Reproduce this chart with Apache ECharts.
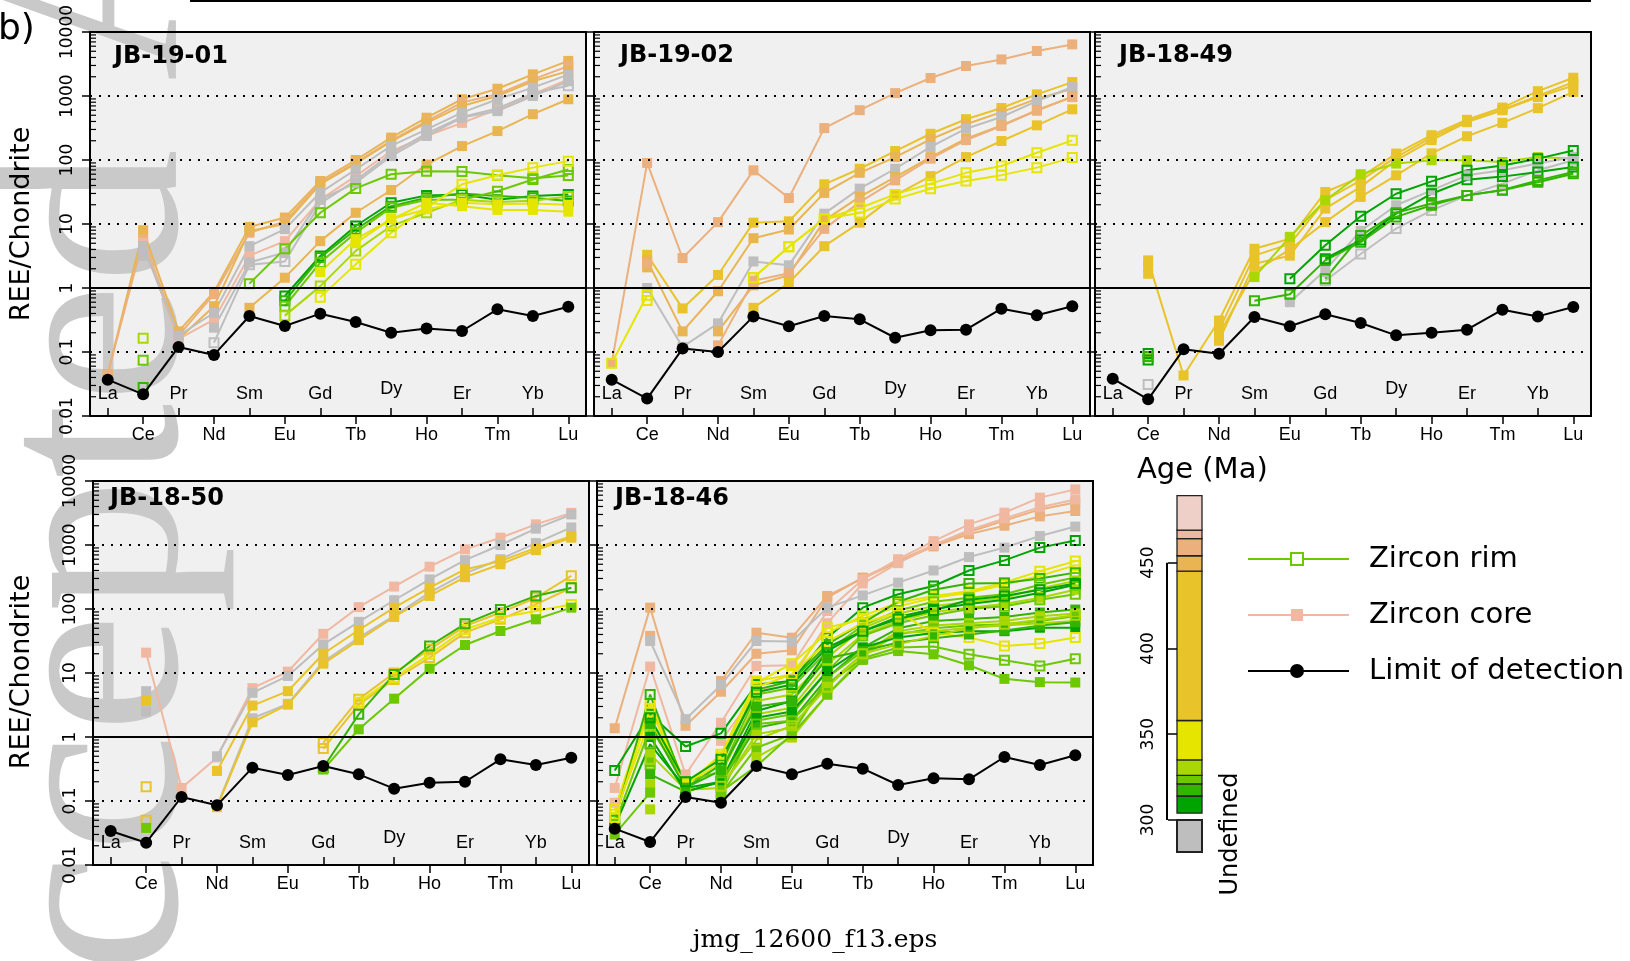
<!DOCTYPE html>
<html><head><meta charset="utf-8">
<script src="https://cdn.jsdelivr.net/npm/echarts/dist/echarts.min.js"></script>
<style>html,body{margin:0;padding:0;background:#fff}#c{width:1630px;height:961px}</style>
</head><body><div id="c"></div>
<script>
// ---------- DATA ----------
const ELEMENTS = ['La','Ce','Pr','Nd','Sm','Eu','Gd','Tb','Dy','Ho','Er','Tm','Yb','Lu'];
const Y_TICKS = ['0.01','0.1','1','10','100','1000','10000'];
const MINOR_STEPS = [2,3,4,5,6,7,8,9];
const DECADES = [0.01,0.1,1,10,100,1000];
const AGE_BREAKS = [304,314,321,326,335,358,445,454,464,469,489];
const AGE_TICKS = [300,350,400,450];
const PANEL_NAMES = ['JB-19-01','JB-19-02','JB-18-49','JB-18-50','JB-18-46'];

const JB1901_LOD = [0.037,0.0218,0.12,0.09,0.365,0.255,0.397,0.294,0.2,0.232,0.213,0.464,0.365,0.51];
const JB1901_AGE = [6,7,6,8,6,10,10,10,2,0,1,2,3,4,4,4,3,2,1];
const JB1901_KIND = ['c','c','c','c','c','c','c','r','r','r','r','r','r','r','c','c','r','r','r'];
const JB1901_VALUES = [
 [0.045,8.0,0.21,0.87,9.0,12.6,47,100,224,458,890,1300,2180,3540],
 [0.045,5.8,0.18,0.80,7.3,11,44,91,200,405,790,1070,1820,2930],
 [null,5.0,0.16,0.52,7.8,10,42,88,195,380,700,1000,1700,2450],
 [null,5.1,0.16,0.32,3.2,5.4,24,56,138,237,380,620,1070,1820],
 [null,null,null,null,0.49,1.45,5.4,15,34,85,165,283,520,890],
 [null,4.5,0.18,0.41,4.5,8.3,31,71,166,300,550,890,1350,2160],
 [null,3.2,null,0.24,2.5,3.6,24,44,115,237,460,580,1000,1700],
 [null,null,null,0.14,2.3,2.6,21,48,125,260,470,640,1100,1450],
 [null,null,null,null,1.17,4.1,15,36,60,67,66,58,52,57.5],
 [null,null,null,null,null,0.75,3.16,9.3,21.5,28,29,24,27.4,29],
 [null,null,null,null,null,0.63,3.0,8.2,19,25.7,30,27.4,25.7,22.9],
 [null,null,null,null,null,0.52,2.5,7.3,18,24,24,32.5,49.6,71],
 [null,null,null,null,null,0.37,1.07,3.8,9.3,15,24,22,23,27],
 [null,null,null,null,null,null,0.72,2.34,7.3,18,41.7,57.6,76,96],
 [null,null,null,null,null,null,1.78,5.8,11.8,21.5,19,16.6,16.6,15.6],
 [null,null,null,null,null,null,null,5.0,12,17,21.5,20.3,21,20],
 [null,0.164,null,null,null,null,null,null,null,null,null,null,null,null],
 [null,0.074,null,null,null,null,null,null,null,null,null,null,null,null],
 [null,0.028,null,null,null,null,null,null,null,null,null,null,null,null]
];

const JB1902_LOD = [0.037,0.0187,0.113,0.1,0.36,0.252,0.365,0.324,0.167,0.218,0.223,0.475,0.374,0.517];
const JB1902_AGE = [7,5,6,10,6,7,5,4,4];
const JB1902_KIND = ['c','c','c','c','c','c','c','r','r'];
const JB1902_VALUES = [
 [0.067,90,2.94,10.7,69,25.5,315,600,1110,1910,2940,3730,5050,6400],
 [null,3.3,0.48,1.6,10.5,11,41.7,73,138,257,434,650,1060,1650],
 [null,2.7,0.21,0.89,6.0,8.2,30.6,63,111,210,362,560,900,1300],
 [null,1.0,0.12,0.28,2.6,2.26,14.5,35.7,73,160,308,470,830,1380],
 [null,2.1,null,0.21,1.1,1.58,11.4,26.5,54,111,215,348,600,980],
 [null,2.4,null,0.127,1.3,1.7,8.4,22,48,105,205,340,590,960],
 [null,null,null,null,0.49,1.21,4.5,10.5,28,56,111,198,348,620],
 [0.067,0.77,null,null,1.45,4.4,12.1,17.8,29,42.7,63,80.6,130,203],
 [null,0.64,null,null,1.45,4.4,12.1,14.8,24.5,35.6,47,58,76,109]
];

const JB1849_LOD = [0.0383,0.0182,0.11,0.094,0.352,0.252,0.388,0.284,0.182,0.2,0.223,0.458,0.36,0.505];
const JB1849_AGE = [5,5,5,5,3,10,10,1,0,0,1];
const JB1849_KIND = ['c','c','c','c','c','c','r','r','r','r','r'];
const JB1849_VALUES = [
 [null,2.7,0.043,0.31,4.1,5.9,31.6,54,126,244,425,660,1190,1930],
 [null,2.1,null,0.22,3.2,4.9,23.5,48,111,225,400,610,1000,1650],
 [null,1.67,null,0.15,2.4,3.2,17.4,38,99,205,390,600,960,1460],
 [null,null,null,0.19,1.8,4.0,10.7,26.5,57.6,127,235,380,645,1160],
 [null,0.083,null,null,1.48,6.3,23.5,60,88,99,99,93,111,105],
 [null,null,null,null,null,0.6,1.9,7.8,19.6,33.6,57.6,69,88,111],
 [null,0.031,null,null,null,null,1.3,3.4,8.5,16.3,28,42.7,69,99],
 [null,null,null,null,0.63,0.8,2.7,5.2,12.9,19.6,28,33.6,45,61],
 [null,0.075,null,null,null,1.4,4.65,13.2,29.7,46.4,69,82,105,141],
 [null,0.095,null,null,null,null,2.87,5.6,14.5,29.7,49,55,65,78],
 [null,0.085,null,null,null,null,1.4,6.6,15,21,28,34,48,65]
];

const JB1850_LOD = [0.034,0.0223,0.1155,0.0856,0.332,0.255,0.352,0.261,0.156,0.193,0.2,0.448,0.365,0.475];
const JB1850_AGE = [8,10,10,5,5,5,5,4,1,2];
const JB1850_KIND = ['c','c','c','c','c','r','r','r','r','c'];
const JB1850_VALUES = [
 [null,20.8,0.16,0.48,5.8,10.5,41,107,224,458,855,1300,2100,3180],
 [null,5.2,null,0.5,4.9,9.0,28,63,137,290,580,1000,1800,3000],
 [null,2.5,null,0.083,1.96,3.3,15,35.6,78,180,360,600,1070,1880],
 [null,3.65,null,0.295,3.1,5.2,20,47,105,215,415,560,900,1370],
 [null,null,null,0.08,1.7,3.2,14,32.6,75,160,315,500,830,1300],
 [null,0.167,null,null,null,null,0.81,3.9,10,23.4,54,88,150,330],
 [null,0.05,null,null,null,null,0.66,3.2,7.9,17.4,42.7,69,118,215],
 [null,null,null,null,null,null,null,3.5,8.5,19.6,48,73.6,93,118],
 [null,null,null,null,null,null,0.33,2.26,9.5,26.4,58.6,98.6,160,215],
 [null,0.038,null,null,null,null,0.31,1.32,3.97,11.7,27.4,45.3,69,105]
];

const JB1846_LOD = [0.037,0.0229,0.1155,0.094,0.352,0.261,0.383,0.32,0.178,0.226,0.218,0.487,0.365,0.517];
const JB1846_AGE = [7,7,8,8,10, 0,4,4,1,2,3,0,3,2,1,3,2,3,0,4,2,2,1,3,0];
const JB1846_KIND = ['c','c','c','c','c', 'r','r','r','r','r','r','r','c','r','c','c','c','c','c','r','r','c','c','r','r'];
const JB1846_VALUES = [
 [1.37,105,1.5,5.1,20,22.6,150,310,560,1000,1600,2400,3600,4600],
 [null,38,null,7.5,42.6,35.6,160,300,540,950,1480,2000,2800,3400],
 [0.16,12.6,0.26,1.67,12.9,13.2,93,290,600,1150,2100,3200,5500,7400],
 [0.094,null,null,0.87,5,8,60,250,520,1000,1700,2600,3900,5150],
 [null,31.6,1.9,6.5,31.6,31,105,163,258,400,648,910,1380,1940],
 [0.30,2.26,0.71,1.14,6.6,7.5,35.6,105,170,229,400,575,910,1180],
 [0.074,3.4,0.19,0.49,7.1,14,42.5,78,125,160,190,260,390,560],
 [0.062,1.8,0.18,0.4,6.0,9.5,51,70,110,150,180,240,330,480],
 [0.05,4.6,0.16,0.37,5.5,7.5,28,60,130,200,250,255,300,370],
 [0.043,1.4,0.2,0.29,4.6,5.9,22,55,95,130,150,170,240,310],
 [null,1.1,null,0.26,3.65,4.6,17.4,50,85,110,130,150,210,275],
 [0.04,0.77,0.16,0.2,2.55,3.65,22,45,75,100,120,140,180,240],
 [null,0.54,0.15,0.16,2.26,2.87,13.6,40,65,90,105,120,150,200],
 [null,0.37,null,0.13,1.8,2.26,10.7,38,60,80,100,110,140,170],
 [null,0.26,0.14,0.2,1.4,1.8,8.5,25,50,65,70,75,88,98],
 [null,0.18,null,0.16,1.1,1.4,6.6,20,45,55,60,65,77,85],
 [0.03,0.135,null,0.13,0.68,1.1,8.5,22,40,50,55,58,65,77],
 [null,0.074,null,null,0.48,0.98,4.6,18,42,45,51,55,60,65],
 [null,1.0,0.14,0.2,2.0,2.5,10.7,25,36,42,45,45,51,51],
 [0.055,2.8,0.17,0.54,7.5,9.5,31,60,90,42,36,26.5,29,36],
 [null,0.8,null,0.2,1.6,1.8,6.6,17,25,26,19.6,15.8,12.9,16.7],
 [null,0.4,null,0.14,0.35,1.1,4.6,16,22,19.6,13.2,8.1,7.2,7.1],
 [null,1.6,0.16,0.3,3.0,3.6,17,22,30,35,40,46,55,62],
 [null,0.45,null,0.17,0.9,1.5,6,20,28,38,50,58,68,80],
 [null,2.0,0.2,0.45,5.0,6.6,25,45,70,95,140,160,200,250]
];

// ---------- STYLE / LAYOUT ----------
const PALETTE = ['#00a400','#33b400','#6cc800','#a8d800','#e5e500','#e8c32a','#e9b452','#ebb07b','#f0b8a0','#efd0c8','#bebebe'];
const GRID_LAYOUT = [[90,32],[594,32],[1095,32],[93,481],[597,481]];
const TITLE_POS = [[114,57],[620,56],[1119,56],[110,499],[615,499]];
const PW = 496, PH = 384;
const SANS = "'DejaVu Sans'";
const LSANS = "'Liberation Sans'";

const PANELS = [
 {v:JB1901_VALUES,a:JB1901_AGE,k:JB1901_KIND,l:JB1901_LOD},
 {v:JB1902_VALUES,a:JB1902_AGE,k:JB1902_KIND,l:JB1902_LOD},
 {v:JB1849_VALUES,a:JB1849_AGE,k:JB1849_KIND,l:JB1849_LOD},
 {v:JB1850_VALUES,a:JB1850_AGE,k:JB1850_KIND,l:JB1850_LOD},
 {v:JB1846_VALUES,a:JB1846_AGE,k:JB1846_KIND,l:JB1846_LOD}
];

const MINOR_VALUES = [];
DECADES.forEach(d => MINOR_STEPS.forEach(m => MINOR_VALUES.push([0, d*m])));

const option = {animation:false, grid:[], xAxis:[], yAxis:[], series:[], graphic:{elements:[]}};
const G = option.graphic.elements;

PANELS.forEach((p, pi) => {
  const [L, T] = GRID_LAYOUT[pi];
  const showY = (pi === 0 || pi === 3);
  option.grid.push({left:L, top:T, width:PW, height:PH, show:true, backgroundColor:'#f0f0f0', borderWidth:0});
  option.xAxis.push({
    type:'category', gridIndex:pi, data:ELEMENTS, position:'bottom', z:5,
    axisLine:{show:false},
    axisTick:{show:true, alignWithLabel:true, interval:(i)=>i%2===1, length:8, lineStyle:{color:'#000',width:1.5}},
    axisLabel:{interval:(i)=>i%2===1, color:'#000', fontSize:18, fontFamily:LSANS, margin:10},
    splitLine:{show:false}
  });
  option.xAxis.push({
    type:'category', gridIndex:pi, data:ELEMENTS, position:'bottom', z:5,
    axisLine:{show:false},
    axisTick:{show:true, inside:true, alignWithLabel:true, interval:(i)=>i%2===0, length:8, lineStyle:{color:'#000',width:1.5}},
    axisLabel:{inside:true, interval:(i)=>i%2===0, color:'#000', fontSize:18, fontFamily:LSANS, margin:13,
      formatter:(v)=> v === 'Dy' ? '{d|Dy}' : v,
      rich:{d:{fontSize:18, fontFamily:LSANS, color:'#000', padding:[0,0,5,0]}}},
    splitLine:{show:false}
  });
  option.yAxis.push({
    type:'log', gridIndex:pi, logBase:10, min:0.01, max:10000, splitNumber:6, z:5,
    axisLine:{show:false},
    axisTick:{show:true, length:8, lineStyle:{color:'#000',width:1.5}},
    axisLabel:{show:showY, rotate:90, fontSize:17, fontFamily:SANS, color:'#000', margin:14,
      formatter:(v)=>Y_TICKS[Math.round(Math.log10(v))+2]},
    splitLine:{show:true, lineStyle:{color:'#000', type:[2,7], width:2}}
  });
  // minor ticks
  option.series.push({
    type:'custom', xAxisIndex:pi*2, yAxisIndex:pi, data:MINOR_VALUES, silent:true, z:6,
    renderItem:(params, api) => {
      const y = api.coord([0, api.value(1)])[1];
      const x0 = params.coordSys.x;
      return {type:'line', shape:{x1:x0, y1:y, x2:x0+6, y2:y}, style:{stroke:'#000', lineWidth:1.2}};
    }
  });
  p.v.forEach((vals, k) => {
    const col = PALETTE[p.a[k]];
    const rim = p.k[k] === 'r';
    option.series.push({
      type:'line', xAxisIndex:pi*2, yAxisIndex:pi, data:vals, silent:true, z:3,
      symbol:'rect', symbolSize: rim ? 9 : 10, showSymbol:true, showAllSymbol:true,
      lineStyle:{color:col, width:2},
      itemStyle:{color: rim ? 'rgba(0,0,0,0)' : col, borderColor:col, borderWidth: rim ? 2 : 0}
    });
  });
  option.series.push({
    type:'line', xAxisIndex:pi*2, yAxisIndex:pi, data:p.l, silent:true, z:4,
    symbol:'circle', symbolSize:12, showAllSymbol:true,
    lineStyle:{color:'#000', width:2}, itemStyle:{color:'#000'},
    markLine:{silent:true, symbol:'none', label:{show:false}, lineStyle:{color:'#000', type:'solid', width:2}, data:[{yAxis:1}]}
  });
  // frame + title
  G.push({type:'rect', shape:{x:L, y:T, width:PW, height:PH}, style:{fill:'none', stroke:'#000', lineWidth:2}, z:10, silent:true});
  G.push({type:'text', x:TITLE_POS[pi][0], y:TITLE_POS[pi][1], style:{text:PANEL_NAMES[pi], font:"bold 24px "+SANS, fill:'#000', align:'left', verticalAlign:'middle'}, z:10});
});

// Age colour bar
const AGE_SEGMENTS = AGE_BREAKS.slice(0,-1).map((lo,i)=>[lo, AGE_BREAKS[i+1], i]);
option.grid.push({left:1177, top:494, width:25, height:326, show:false});
option.xAxis.push({type:'value', gridIndex:5, min:0, max:1, show:false});
option.yAxis.push({
  type:'value', gridIndex:5, min:300, max:490, position:'left', offset:10, z:5,
  axisLine:{show:false},
  axisTick:{show:true, length:9, customValues:AGE_TICKS, lineStyle:{color:'#000', width:1.5}},
  axisLabel:{rotate:90, fontSize:17, fontFamily:SANS, color:'#000', margin:10, customValues:AGE_TICKS},
  splitLine:{show:false}
});
option.series.push({
  type:'custom', xAxisIndex:10, yAxisIndex:5, data:AGE_SEGMENTS, silent:true, z:3,
  renderItem:(params, api) => {
    const p0 = api.coord([0, api.value(0)]), p1 = api.coord([1, api.value(1)]);
    return {type:'rect', shape:{x:p0[0], y:p1[1], width:p1[0]-p0[0], height:p0[1]-p1[1]},
      style:{fill:PALETTE[api.value(2)], stroke:'#222', lineWidth:1.3}};
  }
});
option.series.push({
  type:'custom', xAxisIndex:10, yAxisIndex:5, data:[[AGE_TICKS[0], AGE_TICKS[AGE_TICKS.length-1]]], silent:true, z:3,
  renderItem:(params, api) => {
    const a = api.coord([0, api.value(0)]), b = api.coord([0, api.value(1)]);
    const x = params.coordSys.x - 10;
    return {type:'line', shape:{x1:x, y1:a[1], x2:x, y2:b[1]}, style:{stroke:'#000', lineWidth:2}};
  }
});

// Watermark
G.push({type:'text', x:240, y:1168, rotation:Math.PI/2, silent:true, z:1,
  style:{text:'Accepted Article', font:"270px 'Liberation Serif'", fill:'#c9c9c9', align:'left', verticalAlign:'bottom'}});

// Other texts / decorations
G.push({type:'line', shape:{x1:190, y1:1, x2:1591, y2:1}, style:{stroke:'#000', lineWidth:2}, z:10});
G.push({type:'text', x:-2, y:30, style:{text:'b)', font:"36px "+SANS, fill:'#000', verticalAlign:'middle'}, z:10});
[224, 672].forEach(cy => G.push({type:'text', x:22, y:cy, rotation:Math.PI/2,
  style:{text:'REE/Chondrite', font:"27px "+SANS, fill:'#000', align:'center', verticalAlign:'middle'}, z:10}));
G.push({type:'text', x:815, y:940, style:{text:'jmg_12600_f13.eps', font:"25px 'DejaVu Serif'", fill:'#000', align:'center', verticalAlign:'middle'}, z:10});
G.push({type:'text', x:1137, y:470, style:{text:'Age (Ma)', font:"29px "+SANS, fill:'#000', align:'left', verticalAlign:'middle'}, z:10});
G.push({type:'rect', shape:{x:1177, y:820, width:25, height:32}, style:{fill:'#bebebe', stroke:'#222', lineWidth:2}, z:10});
G.push({type:'text', x:1231, y:834, rotation:Math.PI/2, style:{text:'Undefined', font:"24px "+SANS, fill:'#000', align:'center', verticalAlign:'middle'}, z:10});

// Legend
const LEG = [
  {y:559, text:'Zircon rim', col:'#6cc800', kind:'open'},
  {y:615, text:'Zircon core', col:'#f0b8a0', kind:'fill'},
  {y:671, text:'Limit of detection', col:'#000', kind:'circle'}
];
LEG.forEach(it => {
  G.push({type:'line', shape:{x1:1248, y1:it.y, x2:1349, y2:it.y}, style:{stroke:it.col, lineWidth:2}, z:10});
  if (it.kind === 'open') G.push({type:'rect', shape:{x:1291, y:it.y-6, width:12, height:12}, style:{fill:'#fff', stroke:it.col, lineWidth:2}, z:11});
  if (it.kind === 'fill') G.push({type:'rect', shape:{x:1291, y:it.y-6, width:12, height:12}, style:{fill:it.col}, z:11});
  if (it.kind === 'circle') G.push({type:'circle', shape:{cx:1297, cy:it.y, r:7}, style:{fill:'#000'}, z:11});
  G.push({type:'text', x:1369, y:it.y, style:{text:it.text, font:"29px "+SANS, fill:'#000', align:'left', verticalAlign:'middle'}, z:10});
});

const chart = echarts.init(document.getElementById('c'), null, {renderer:'canvas'});
chart.setOption(option);
</script></body></html>
